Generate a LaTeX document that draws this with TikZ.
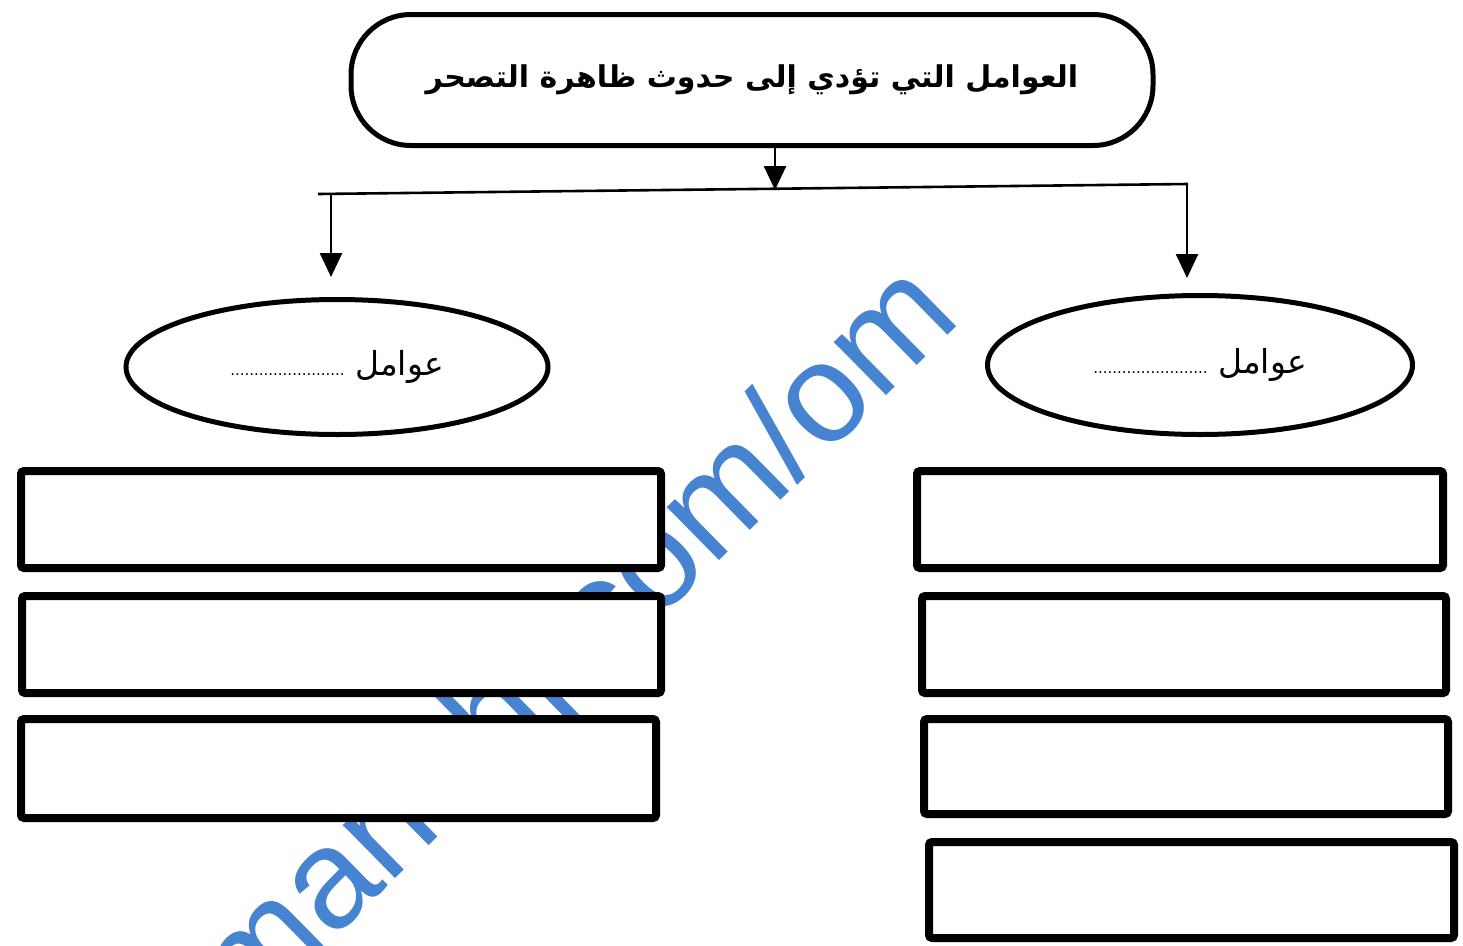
\documentclass[tikz,border=0pt]{standalone}
\usepackage{fontspec}
\usetikzlibrary{shapes.geometric,arrows.meta}
\TeXXeTstate=1
\newfontfamily\arabicfont[Script=Arabic]{DejaVu Sans}
\newfontfamily\wmfont{Liberation Sans}
\definecolor{wmblue}{RGB}{70,131,208}
\tikzset{
  titlebox/.style={draw, line width=5pt, rounded corners=60pt, fill=white, inner sep=0pt},
  ellbox/.style={draw, ellipse, line width=5pt, fill=white, inner sep=0pt},
  answerbox/.style={draw, rectangle, line width=8pt, rounded corners=3pt, fill=white, inner sep=0pt},
  conn/.style={line width=2.6pt},
  arr/.style={line width=2.6pt, -{Triangle[width=22pt,length=24pt]}},
}
\begin{document}
\begin{tikzpicture}[x=1pt,y=-1pt]
\useasboundingbox[fill=white] (0,0) rectangle (1463,945);
% watermark
\node[text=wmblue, font=\wmfont\fontsize{141}{141}\selectfont, rotate=44.5, anchor=base east, inner sep=0pt] (wm) at (964,320) {almanahj.com/om};
% title
\node[titlebox, minimum width=802pt, minimum height=131pt] (title) at (752,80)
  {\arabicfont\bfseries\fontsize{30}{36}\selectfont\beginR العوامل التي تؤدي إلى حدوث ظاهرة التصحر\endR};
% ellipses
\node[ellbox, minimum width=422pt, minimum height=135pt] (le) at (337,367)
  {\arabicfont\fontsize{33}{38}\selectfont\beginR عوامل {\fontsize{15}{15}\selectfont ........................}\endR};
\node[ellbox, minimum width=425pt, minimum height=139pt] (re) at (1200,365)
  {\arabicfont\fontsize{33}{38}\selectfont\beginR عوامل {\fontsize{15}{15}\selectfont ........................}\endR};
% connectors
\coordinate (m) at (775,190);
\coordinate (hl) at (318,194);
\coordinate (hr) at (1188,184);
\coordinate (la) at (331,277);
\coordinate (ra) at (1187,278);
\draw[arr] (title.south -| m) -- (m);
\draw[conn] (hl) -- (hr);
\draw[arr] (hl -| la) -- (la);
\draw[arr] (hr -| ra) -- (ra);
% left answer boxes
\node[answerbox, minimum width=640pt, minimum height=97pt] (l1) at (341,519.5) {};
\node[answerbox, minimum width=639pt, minimum height=97pt] (l2) at (341.5,644.5) {};
\node[answerbox, minimum width=635pt, minimum height=99pt] (l3) at (338.5,768.5) {};
% right answer boxes
\node[answerbox, minimum width=526pt, minimum height=97pt] (r1) at (1180,519.5) {};
\node[answerbox, minimum width=524pt, minimum height=97pt] (r2) at (1184,644.5) {};
\node[answerbox, minimum width=524pt, minimum height=95pt] (r3) at (1186,766.5) {};
\node[answerbox, minimum width=525pt, minimum height=96pt] (r4) at (1191.5,890) {};
\end{tikzpicture}
\end{document}
